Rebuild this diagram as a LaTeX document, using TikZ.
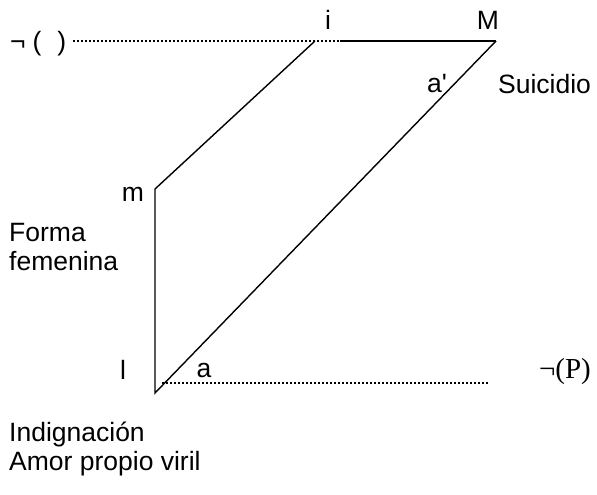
\documentclass[tikz,border=0pt]{standalone}
\usepackage{fontspec}
\setmainfont{Liberation Sans}
\newfontfamily\serifface{Liberation Serif}
\newfontfamily\nomapsans{Liberation Sans}
\begin{document}
\begin{tikzpicture}[x=1pt,y=-1pt,
  lbl/.style={font=\fontsize{26.5}{29}\selectfont, inner sep=0pt},
  lblw/.style={lbl, anchor=west, align=left},
  solidline/.style={line width=1.4pt},
  dotline/.style={line width=2pt, dash pattern=on 2pt off 2pt}]
\useasboundingbox (0,0) rectangle (597,495);
% vertices
\coordinate (Ltop) at (73,41);
\coordinate (Dend) at (340,41);
\coordinate (I) at (315,41);
\coordinate (Mv) at (496,41);
\coordinate (mv) at (155,189);
\coordinate (lv) at (155,393);
\coordinate (B1) at (162,383);
\coordinate (B2) at (488,383);
% lines
\draw[dotline] (Ltop) -- (Dend);
\draw[solidline] (Dend) -- (Mv);
\draw[solidline] (I) -- (mv) -- (lv) -- (Mv);
\draw[dotline] (B1) -- (B2);
% labels
\node[lblw] (neg1) at (10,44) {¬\hspace{7pt}(\hspace{16pt})};
\node[lbl] (ilab) at (328,20) {i};
\node[lbl] (Mlab) at (488,20) {M};
\node[lbl, font=\nomapsans\fontsize{26.5}{29}\selectfont] (aplab) at (437,84) {a'};
\node[lblw] (suic) at (498,84) {Suicidio};
\node[lbl] (mlab) at (133,194) {m};
\node[lblw] (forma) at (9,247) {Forma\\femenina};
\node[lbl] (llab) at (123,370) {l};
\node[lbl] (alab) at (204,370) {a};
\node[lbl, anchor=east, font=\serifface\fontsize{29}{32}\selectfont] (negP) at (591,372) {¬(P)};
\node[lblw] (indig) at (9,449) {Indignación\\Amor propio viril};
\end{tikzpicture}
\end{document}
